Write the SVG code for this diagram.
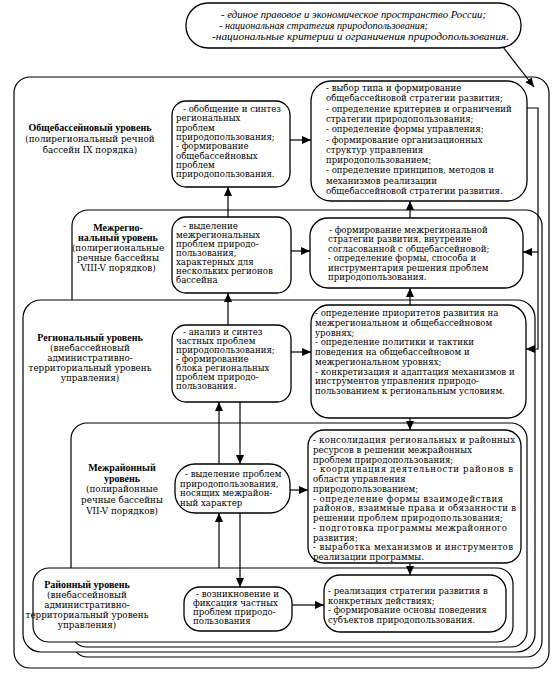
<svg xmlns="http://www.w3.org/2000/svg" width="557" height="677" viewBox="0 0 557 677">
<style>
.c{fill:#fff;stroke:#000;stroke-width:1.2}
.b{fill:#fff;stroke:#000;stroke-width:1.3}
.t{font-family:"DejaVu Serif","Liberation Serif",serif;font-size:8.6px;fill:#000}
.h{font-family:"DejaVu Serif","Liberation Serif",serif;font-size:8.8px;fill:#000;text-anchor:middle}
.hb{font-family:"Liberation Serif",serif;font-size:10px;font-weight:bold}
.o{font-family:"Liberation Serif",serif;font-style:italic;font-size:11px;fill:#000}
.k line,.k polyline{stroke:#000;stroke-width:1.2;fill:none}
</style>
<defs>
<marker id="a" markerUnits="userSpaceOnUse" markerWidth="9" markerHeight="8" refX="9" refY="4" orient="auto"><path d="M0,0 L9,4 L0,8 z" fill="#000"/></marker>
</defs>
<rect width="557" height="677" fill="#fff"/>

<g id="national">
<rect class="b" x="186" y="3" width="335" height="45" rx="22"/>
<text class="o" x="221" y="18" textLength="265" lengthAdjust="spacingAndGlyphs">- единое правовое и экономическое пространство России;</text>
<text class="o" x="219" y="29" textLength="209" lengthAdjust="spacingAndGlyphs">- национальная стратегия природопользования;</text>
<text class="o" x="212" y="40" textLength="297" lengthAdjust="spacingAndGlyphs">-национальные критерии и ограничения природопользования.</text>
</g>

<g id="level-basin">
<rect class="c" x="14" y="77" width="535" height="591" rx="16"/>
<text class="h" x="90"><tspan class="hb" x="90" y="131">Общебассейновый уровень</tspan><tspan x="90" y="142">(полирегиональный речной</tspan><tspan x="90" y="153">бассейн IX порядка)</tspan></text>
</g>
<g id="level-interregional">
<rect class="c" x="72" y="210" width="470" height="447" rx="16"/>
<text class="h" x="118"><tspan class="hb" x="118" y="231">Межрегио-</tspan><tspan class="hb" x="118" y="241">нальный уровень</tspan><tspan x="118" y="251">(полирегиональные</tspan><tspan x="118" y="261">речные бассейны</tspan><tspan x="118" y="271">VIII-V порядков)</tspan></text>
</g>
<g id="level-regional">
<rect class="c" x="23" y="300" width="512" height="352" rx="18"/>
<text class="h" x="90"><tspan class="hb" x="90" y="341">Региональный уровень</tspan><tspan x="90" y="351">(внебассейновый</tspan><tspan x="90" y="361">административно-</tspan><tspan x="90" y="371">территориальный уровень</tspan><tspan x="90" y="381">управления)</tspan></text>
</g>
<g id="level-interdistrict">
<rect class="c" x="71" y="423" width="456" height="224" rx="16"/>
<text class="h" x="122"><tspan class="hb" x="122" y="471">Межрайонный</tspan><tspan class="hb" x="122" y="482">уровень</tspan><tspan x="122" y="492">(полирайонные</tspan><tspan x="122" y="503">речные бассейны</tspan><tspan x="122" y="514">VII-V порядков)</tspan></text>
</g>
<g id="level-district">
<rect class="c" x="33" y="568" width="480" height="74" rx="16"/>
<text class="h" x="87"><tspan class="hb" x="87" y="588">Районный уровень</tspan><tspan x="87" y="598">(внебассейновый</tspan><tspan x="87" y="608">административно-</tspan><tspan x="87" y="618">территориальный уровень</tspan><tspan x="87" y="628">управления)</tspan></text>
</g>

<g id="L1">
<rect class="b" x="172" y="101" width="118" height="86" rx="14"/>
<text class="t"><tspan x="183" y="112">- обобщение и синтез</tspan><tspan x="176" y="121.3">региональных</tspan><tspan x="176" y="130.6">проблем</tspan><tspan x="176" y="139.9">природопользования;</tspan><tspan x="176" y="149.2">- формирование</tspan><tspan x="176" y="158.5">общебассейновых</tspan><tspan x="176" y="167.8">проблем</tspan><tspan x="176" y="177.1">природопользования.</tspan></text>
</g>
<g id="R1">
<rect class="b" x="311" y="81" width="216" height="120" rx="20"/>
<text class="t"><tspan x="326" y="91">- выбор типа и формирование</tspan><tspan x="326" y="101.3">общебассейновой стратегии развития;</tspan><tspan x="326" y="111.6">- определение критериев и ограничений</tspan><tspan x="326" y="121.9">стратегии  природопользования;</tspan><tspan x="326" y="132.2">- определение формы управления;</tspan><tspan x="326" y="142.5">- формирование организационных</tspan><tspan x="326" y="152.8">структур управления</tspan><tspan x="326" y="163.1">природопользованием;</tspan><tspan x="326" y="173.4">- определение принципов, методов и</tspan><tspan x="326" y="183.7">механизмов  реализации</tspan><tspan x="326" y="194">общебассейновой стратегии развития.</tspan></text>
</g>
<g id="L2">
<rect class="b" x="172" y="217" width="119" height="76" rx="14"/>
<text class="t"><tspan x="183" y="229">- выделение</tspan><tspan x="176" y="238">межрегиональных</tspan><tspan x="176" y="247">проблем  природо-</tspan><tspan x="176" y="256">пользования,</tspan><tspan x="176" y="265">характерных для</tspan><tspan x="176" y="274">нескольких регионов</tspan><tspan x="176" y="283">бассейна</tspan></text>
</g>
<g id="R2">
<rect class="b" x="310" y="218" width="213" height="70" rx="18"/>
<text class="t"><tspan x="329" y="233">- формирование  межрегиональной</tspan><tspan x="328" y="242.4">стратегии развития, внутрение</tspan><tspan x="328" y="251.8">согласованной  с  общебассейновой;</tspan><tspan x="328" y="261.2">- определение формы, способа и</tspan><tspan x="328" y="270.6">инструментария решения проблем</tspan><tspan x="328" y="280">природопользования.</tspan></text>
</g>
<g id="L3">
<rect class="b" x="172" y="325" width="119" height="77" rx="14"/>
<text class="t"><tspan x="183" y="335">- анализ и синтез</tspan><tspan x="176" y="344">частных  проблем</tspan><tspan x="176" y="353">природопользования;</tspan><tspan x="176" y="362">- формирование</tspan><tspan x="176" y="371">блока  региональных</tspan><tspan x="176" y="380">проблем  природо-</tspan><tspan x="176" y="389">пользования.</tspan></text>
</g>
<g id="R3">
<rect class="b" x="311" y="305" width="215" height="113" rx="18"/>
<text class="t"><tspan x="315" y="316">- определение приоритетов развития на</tspan><tspan x="315" y="325.75">межрегиональном  и  общебассейновом</tspan><tspan x="315" y="335.5">уровнях;</tspan><tspan x="315" y="345.25">- определение политики и тактики</tspan><tspan x="315" y="355">поведения на общебассейновом и</tspan><tspan x="315" y="364.75">межрегиональном  уровнях;</tspan><tspan x="315" y="374.5">- конкретизация и адаптация механизмов и</tspan><tspan x="315" y="384.25">инструментов  управления  природо-</tspan><tspan x="315" y="394">пользованием  к  региональным  условиям.</tspan></text>
</g>
<g id="L4">
<rect class="b" x="175" y="464" width="115" height="49" rx="20"/>
<text class="t"><tspan x="185" y="477">- выделение проблем</tspan><tspan x="180" y="486.5">природопользования,</tspan><tspan x="180" y="496">носящих  межрайон-</tspan><tspan x="180" y="505.5">ный характер</tspan></text>
</g>
<g id="R4">
<rect class="b" x="308" y="430" width="213" height="133" rx="16"/>
<text class="t" x="313" y="443" textLength="202" lengthAdjust="spacing">- консолидация региональных и районных</text>
<text class="t" x="313" y="452.75">ресурсов в решении межрайонных</text>
<text class="t" x="313" y="462.5">проблем   природопользования;</text>
<text class="t" x="313" y="472.25" textLength="200" lengthAdjust="spacing">- координация деятельности районов в</text>
<text class="t" x="313" y="482">области управления</text>
<text class="t" x="313" y="491.75">природопользованием;</text>
<text class="t" x="313" y="501.5" textLength="190" lengthAdjust="spacing">- определение формы взаимодействия</text>
<text class="t" x="313" y="511.25" textLength="203" lengthAdjust="spacing">районов, взаимные права и обязанности в</text>
<text class="t" x="313" y="521" textLength="190" lengthAdjust="spacing">решении  проблем  природопользования;</text>
<text class="t" x="313" y="530.75" textLength="194" lengthAdjust="spacing">- подготовка программы межрайонного</text>
<text class="t" x="313" y="540.5">развития;</text>
<text class="t" x="313" y="550.25" textLength="200" lengthAdjust="spacing">- выработка механизмов и инструментов</text>
<text class="t" x="313" y="560">реализации  программы.</text>
</g>
<g id="L5">
<rect class="b" x="184" y="587" width="108" height="44" rx="16"/>
<text class="t"><tspan x="196" y="597">- возникновение и</tspan><tspan x="193" y="606">фиксация частных</tspan><tspan x="193" y="615">проблем  природо-</tspan><tspan x="193" y="624">пользования</tspan></text>
</g>
<g id="R5">
<rect class="b" x="324" y="575" width="182" height="57" rx="16"/>
<text class="t"><tspan x="328" y="594">- реализация стратегии развития в</tspan><tspan x="328" y="603.5">конкретных действиях;</tspan><tspan x="328" y="613">- формирование основы поведения</tspan><tspan x="328" y="622.5">субъектов  природопользования.</tspan></text>
</g>

<g id="connectors" class="k">
<line x1="503" y1="47" x2="534" y2="87" marker-end="url(#a)"/>
<line x1="228" y1="217" x2="228" y2="187" marker-end="url(#a)"/>
<line x1="228" y1="325" x2="228" y2="293" marker-end="url(#a)"/>
<line x1="219" y1="464" x2="219" y2="402" marker-end="url(#a)"/>
<line x1="240" y1="402" x2="240" y2="464" marker-end="url(#a)"/>
<line x1="219" y1="568" x2="219" y2="513" marker-end="url(#a)"/>
<line x1="240" y1="513" x2="240" y2="587" marker-end="url(#a)"/>
<line x1="410" y1="218" x2="410" y2="201" marker-end="url(#a)"/>
<line x1="410" y1="305" x2="410" y2="288" marker-end="url(#a)"/>
<line x1="410" y1="418" x2="410" y2="430" marker-end="url(#a)"/>
<line x1="410" y1="563" x2="410" y2="575" marker-end="url(#a)"/>
<line x1="290" y1="140" x2="311" y2="140" marker-end="url(#a)"/>
<line x1="291" y1="251" x2="310" y2="251" marker-end="url(#a)"/>
<line x1="291" y1="352" x2="311" y2="352" marker-end="url(#a)"/>
<line x1="290" y1="490" x2="308" y2="490" marker-end="url(#a)"/>
<line x1="292" y1="605" x2="324" y2="605" marker-end="url(#a)"/>
<polyline points="527,108 538,108 538,349 526,349" marker-end="url(#a)"/>
<line x1="538" y1="252" x2="523" y2="252" marker-end="url(#a)"/>
</g>
</svg>
